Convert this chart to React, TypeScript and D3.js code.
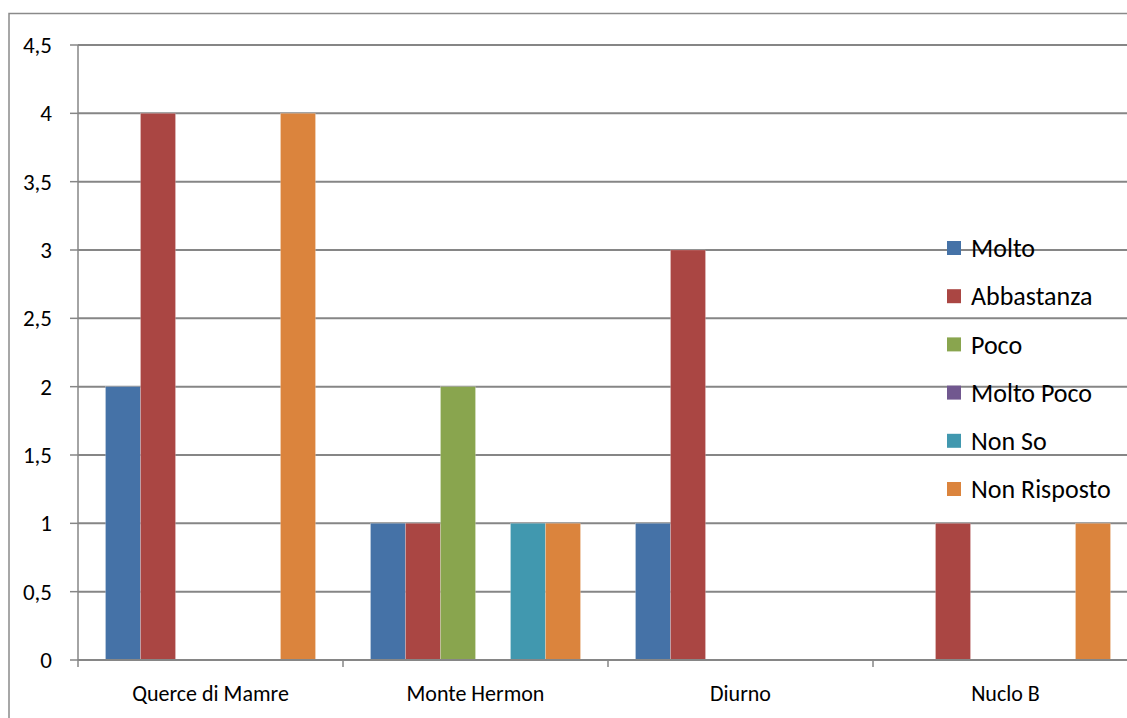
import React from "react";
import * as d3 from "d3";

const categories = ["Querce di Mamre", "Monte Hermon", "Diurno", "Nuclo B"];
const seriesNames = ["Molto", "Abbastanza", "Poco", "Molto Poco", "Non So", "Non Risposto"];
const molto = [2, 1, 1, 0];
const abbastanza = [4, 1, 3, 1];
const poco = [0, 2, 0, 0];
const moltoPoco = [0, 0, 0, 0];
const nonSo = [0, 1, 0, 0];
const nonRisposto = [4, 1, 0, 1];
const seriesValues = [molto, abbastanza, poco, moltoPoco, nonSo, nonRisposto];
const colors = ["#4572A7", "#AA4643", "#89A54E", "#71588F", "#4198AF", "#DB843D"];
const yTicks = [0, 0.5, 1, 1.5, 2, 2.5, 3, 3.5, 4, 4.5];

export default function App() {
  const W = 1127, H = 718;
  const left = 78, right = 1138, top = 45, bottom = 660;
  const x = d3.scaleBand().domain(categories).range([left, right]).paddingInner(0).paddingOuter(0);
  const inner = d3.scaleBand().domain(seriesNames).range([0, x.bandwidth()]).paddingOuter(0.786).paddingInner(0);
  const y = d3.scaleLinear().domain([0, 4.5]).range([bottom, top]);
  const fmt = (v: number) => String(v).replace(".", ",");
  const font = "Carlito, Calibri, 'Open Sans', sans-serif";
  const grid = "#868686";
  return (
    <svg width={W} height={H} style={{ position: "absolute", left: 0, top: 0 }} fontFamily={font}>
      <rect x={0} y={0} width={W} height={H} fill="#fff" />
      <rect x={9} y={13.5} width={W + 20} height={H + 20} fill="none" stroke="#8a8a8a" strokeWidth={1.5} />
      {yTicks.map((t) => (
        <g key={t}>
          {t > 0 && <line x1={left} x2={W} y1={y(t)} y2={y(t)} stroke={grid} strokeWidth={2} />}
          <line x1={70} x2={left} y1={y(t)} y2={y(t)} stroke={grid} strokeWidth={1.5} />
          <text x={52} y={y(t)} dy="0.35em" textAnchor="end" fontSize={23} fill="#000">{fmt(t)}</text>
        </g>
      ))}
      {categories.map((c, ci) => (
        <g key={c}>
          {seriesValues.map((vals, si) =>
            vals[ci] > 0 ? (
              <rect
                key={si}
                x={(x(c) as number) + (inner(seriesNames[si]) as number)}
                y={y(vals[ci])}
                width={inner.bandwidth()}
                height={y(0) - y(vals[ci])}
                fill={colors[si]}
                stroke="#fff"
                strokeWidth={0.4}
                strokeOpacity={0.5}
              />
            ) : null
          )}
          <text x={(x(c) as number) + x.bandwidth() / 2} y={693} dy="0.35em" textAnchor="middle" fontSize={22} fill="#000">{c}</text>
        </g>
      ))}
      <line x1={left} x2={left} y1={top} y2={bottom + 7} stroke={grid} strokeWidth={1.5} />
      <line x1={left} x2={W} y1={bottom} y2={bottom} stroke={grid} strokeWidth={2} />
      {categories.slice(1).map((c) => (
        <line key={c} x1={x(c) as number} x2={x(c) as number} y1={bottom} y2={bottom + 7} stroke={grid} strokeWidth={1.5} />
      ))}
      {seriesNames.map((s, i) => (
        <g key={s} transform={`translate(947, ${248 + i * 48.2})`}>
          <rect x={0} y={-7} width={14} height={14} fill={colors[i]} />
          <text x={24} y={0} dy="0.35em" fontSize={26} fill="#000">{s}</text>
        </g>
      ))}
    </svg>
  );
}
